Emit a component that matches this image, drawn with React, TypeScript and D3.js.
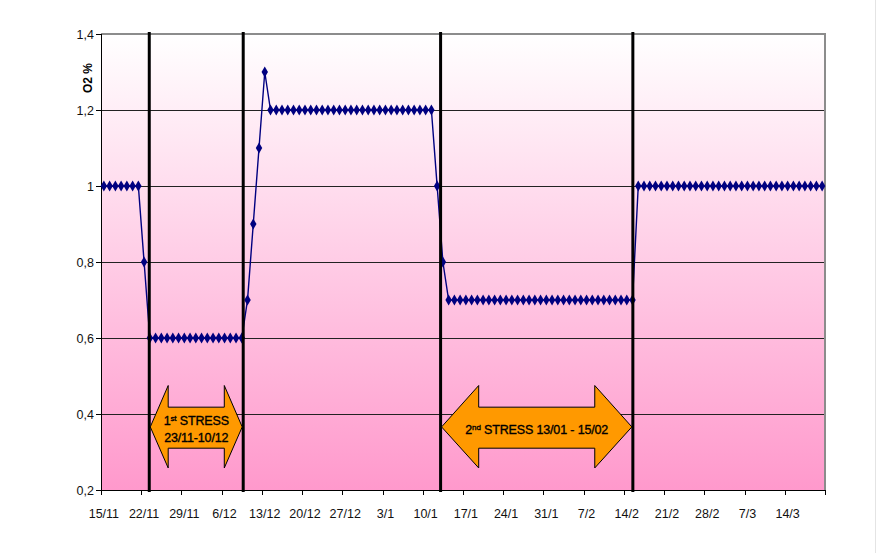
import React from "react";
import * as d3 from "d3";

// Daily categories 15/11 .. 20/3 (126 days)
const startDate = new Date(2006, 10, 15);
const dayCount = 126;
const categories: Date[] = d3.timeDay.range(startDate, d3.timeDay.offset(startDate, dayCount));

const tickLabels = ["15/11", "22/11", "29/11", "6/12", "13/12", "20/12", "27/12", "3/1", "10/1", "17/1", "24/1", "31/1", "7/2", "14/2", "21/2", "28/2", "7/3", "14/3"];

const o2Values: number[] = [
  1, 1, 1, 1, 1, 1, 1,
  0.8,
  0.6, 0.6, 0.6, 0.6, 0.6, 0.6, 0.6, 0.6, 0.6, 0.6, 0.6, 0.6, 0.6, 0.6, 0.6, 0.6, 0.6,
  0.7, 0.9, 1.1, 1.3,
  1.2, 1.2, 1.2, 1.2, 1.2, 1.2, 1.2, 1.2, 1.2, 1.2, 1.2, 1.2, 1.2, 1.2, 1.2, 1.2, 1.2, 1.2, 1.2, 1.2, 1.2, 1.2, 1.2, 1.2, 1.2, 1.2, 1.2, 1.2, 1.2,
  1.0,
  0.8,
  0.7, 0.7, 0.7, 0.7, 0.7, 0.7, 0.7, 0.7, 0.7, 0.7, 0.7, 0.7, 0.7, 0.7, 0.7, 0.7, 0.7, 0.7, 0.7, 0.7, 0.7, 0.7, 0.7, 0.7, 0.7, 0.7, 0.7, 0.7, 0.7, 0.7, 0.7, 0.7, 0.7,
  1, 1, 1, 1, 1, 1, 1, 1, 1, 1, 1, 1, 1, 1, 1, 1, 1, 1, 1, 1, 1, 1, 1, 1, 1, 1, 1, 1, 1, 1, 1, 1, 1,
];

const yTicks = [0.2, 0.4, 0.6, 0.8, 1, 1.2, 1.4];
const yTickLabels = ["0,2", "0,4", "0,6", "0,8", "1", "1,2", "1,4"];

// stress boundary markers (category index positions)
const stressLines = [7.9, 24.25, 58.6, 92.06];
const stressPeriods = [
  { from: 7.9, to: 24.25, sup: "st", num: "1", line1: " STRESS", line2: "23/11-10/12" },
  { from: 58.6, to: 92.06, sup: "nd", num: "2", line1: " STRESS 13/01 - 15/02", line2: "" },
];

const W = 877;
const H = 553;
const plot = { left: 101, right: 825, top: 34, bottom: 490 };

export default function App() {
  const x = d3
    .scaleBand<number>()
    .domain(categories.map((_, i) => i))
    .range([plot.left, plot.right])
    .padding(0);
  const bw = x.bandwidth();
  const xi = d3.scaleLinear().domain([-0.5, dayCount - 0.5]).range([plot.left, plot.right]);
  const y = d3.scaleLinear().domain([0.2, 1.4]).range([plot.bottom, plot.top]);

  const line = d3
    .line<number>()
    .x((_, i) => (x(i) as number) + bw / 2)
    .y((d) => y(d));

  const diamond = d3.symbol().type(d3.symbolDiamond).size(36)();

  const font = "'Liberation Sans', Arial, sans-serif";

  const xTickIdx: number[] = [];
  for (let i = 0; i < dayCount; i += 7) xTickIdx.push(i);

  const arrowPath = (x0: number, x1: number) => {
    const head = (x1 - x0) * 0.195;
    const yt = y(0.475), yb = y(0.258), ymid = y(0.366), st = y(0.418), sb = y(0.31);
    return `M${x0},${ymid} L${x0 + head},${yt} L${x0 + head},${st} L${x1 - head},${st} L${x1 - head},${yt} L${x1},${ymid} L${x1 - head},${yb} L${x1 - head},${sb} L${x0 + head},${sb} L${x0 + head},${yb} Z`;
  };

  const txtProps = { fontFamily: font, fontSize: 12.5, fill: "#000", stroke: "#000", strokeWidth: 0.35, letterSpacing: -0.15 };

  return (
    <svg width={W} height={H} style={{ position: "absolute", left: 0, top: 0, background: "#fff" }}>
      <defs>
        <linearGradient id="bg" x1="0" y1="0" x2="0" y2="1">
          <stop offset="0" stopColor="#ffffff" />
          <stop offset="1" stopColor="#ff99cc" />
        </linearGradient>
      </defs>
      <line x1={875.5} x2={875.5} y1={0} y2={H} stroke="#e4e4e4" strokeWidth={1} />
      <rect x={plot.left} y={plot.top} width={plot.right - plot.left} height={plot.bottom - plot.top} fill="url(#bg)" />
      {yTicks.map((t) => (
        <line key={t} x1={plot.left} x2={plot.right} y1={Math.round(y(t)) + 0.5} y2={Math.round(y(t)) + 0.5} stroke="#222" strokeWidth={1} />
      ))}
      {/* plot border top/right */}
      <line x1={plot.left} x2={plot.right + 1} y1={plot.top} y2={plot.top} stroke="#8c8c8c" strokeWidth={2} />
      <line x1={plot.right} x2={plot.right} y1={plot.top} y2={plot.bottom} stroke="#8c8c8c" strokeWidth={2} />
      {/* axes */}
      <line x1={plot.left + 0.5} x2={plot.left + 0.5} y1={plot.top} y2={plot.bottom} stroke="#000" strokeWidth={1} />
      <line x1={plot.left} x2={plot.right} y1={plot.bottom + 0.5} y2={plot.bottom + 0.5} stroke="#000" strokeWidth={1} />
      {yTicks.map((t, i) => (
        <g key={"yt" + t}>
          <line x1={plot.left - 5} x2={plot.left} y1={Math.round(y(t)) + 0.5} y2={Math.round(y(t)) + 0.5} stroke="#000" />
          <text x={94} y={y(t) + 4.5} textAnchor="end" fontFamily={font} fontSize={12.5} fill="#111">
            {yTickLabels[i]}
          </text>
        </g>
      ))}
      {[...xTickIdx, dayCount].map((i) => {
        const xx = Math.round(i < dayCount ? (x(i) as number) : plot.right) + 0.5;
        return <line key={"xt" + i} x1={xx} x2={xx} y1={plot.bottom} y2={plot.bottom + 5} stroke="#000" />;
      })}
      {xTickIdx.map((i, k) => (
        <text key={"xl" + i} x={(x(i) as number) + bw / 2} y={518} textAnchor="middle" fontFamily={font} fontSize={12.5} fill="#111">
          {tickLabels[k]}
        </text>
      ))}
      <text transform={`translate(92,78) rotate(-90)`} textAnchor="middle" fontFamily={font} fontSize={12} fontWeight="bold" fill="#000">
        O2 %
      </text>
      {/* data */}
      <path d={line(o2Values) || ""} fill="none" stroke="#000080" strokeWidth={1.4} />
      {o2Values.map((v, i) => (
        <path key={"m" + i} d={diamond || ""} transform={`translate(${(x(i) as number) + bw / 2},${y(v)})`} fill="#000080" />
      ))}
      {/* stress lines */}
      {stressLines.map((s) => (
        <line key={"s" + s} x1={xi(s)} x2={xi(s)} y1={plot.top - 2} y2={plot.bottom + 2} stroke="#000" strokeWidth={3} />
      ))}
      {/* arrows */}
      {stressPeriods.map((p, k) => {
        const x0 = xi(p.from) + 1;
        const x1 = xi(p.to) - 1;
        const cx = (x0 + x1) / 2;
        return (
          <g key={"a" + k}>
            <path d={arrowPath(x0, x1)} fill="#ff9900" stroke="#000" strokeWidth={1} />
            {p.line2 ? (
              <>
                <text x={cx} y={425} textAnchor="middle" {...txtProps}>
                  {p.num}
                  <tspan fontSize={8} dy={-4}>{p.sup}</tspan>
                  <tspan dy={4}>{p.line1}</tspan>
                </text>
                <text x={cx} y={442} textAnchor="middle" {...txtProps}>
                  {p.line2}
                </text>
              </>
            ) : (
              <text x={cx} y={434} textAnchor="middle" {...txtProps}>
                {p.num}
                <tspan fontSize={8} dy={-4}>{p.sup}</tspan>
                <tspan dy={4}>{p.line1}</tspan>
              </text>
            )}
          </g>
        );
      })}
    </svg>
  );
}
